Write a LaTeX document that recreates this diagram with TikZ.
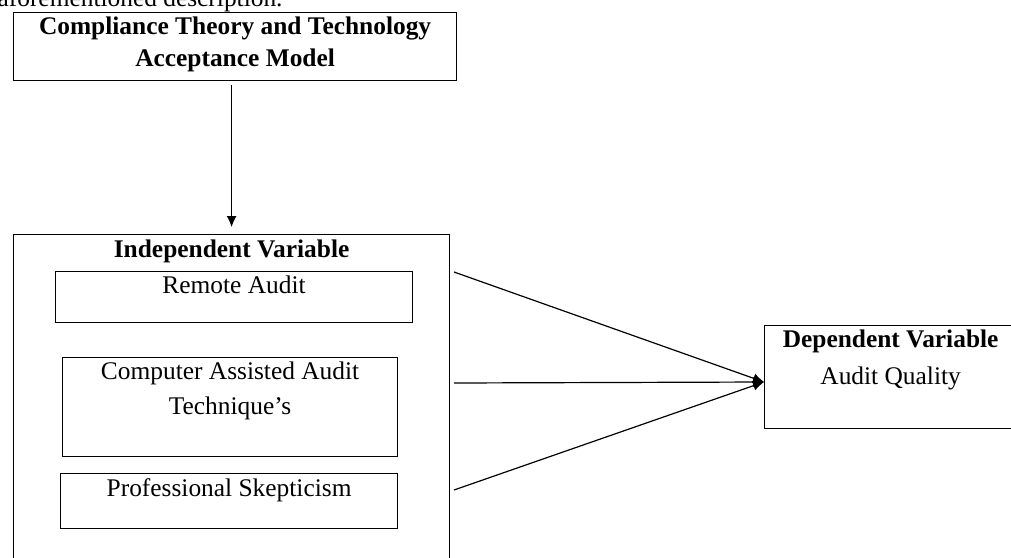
\documentclass[tikz,border=0pt]{standalone}
\usepackage{fontspec}
\setmainfont{Liberation Serif}
\usetikzlibrary{arrows,arrows.meta,positioning,calc}

\begin{document}
\begin{tikzpicture}[x=0.5pt, y=-0.5pt, line width=0.6pt,
            font=\fontsize{12.7}{16}\selectfont,
            box/.style={draw, rectangle, inner sep=0pt, anchor=north west},
            txt/.style={inner sep=0pt, align=center},
            link/.style={draw, -{Latex[length=5.5pt,width=5pt]}}]
        \clip (0,0) rectangle (1011,557);

        \node[txt, anchor=base west] (intro) at (-3,6) {aforementioned description.};

        % theory box
        \node[box, minimum width=221.5pt, minimum height=34pt] (theory) at (13,12) {};
        \node[txt, below=2pt of theory.north, font=\fontsize{12.7}{16}\selectfont\bfseries]
              (theoryt) {Compliance Theory and Technology\\Acceptance Model};

        % independent variables
        \node[box, minimum width=218pt, minimum height=175pt] (indep) at (13,234) {};
        \node[txt, below=2.5pt of indep.north, font=\fontsize{12.7}{16}\selectfont\bfseries]
              (indept) {Independent Variable};

        \node[box, minimum width=178.5pt, minimum height=25.5pt] (remote) at (55,271) {};
        \node[txt, below=2pt of remote.north] (remotet) {Remote Audit};

        \node[box, minimum width=167.5pt, minimum height=49.5pt] (caat) at (62,357) {};
        \node[txt, below=2pt of caat.north, font=\fontsize{12.7}{17.5}\selectfont]
              (caatt) {Computer Assisted Audit\\Technique's};

        \node[box, minimum width=168.5pt, minimum height=27.5pt] (skept) at (60,473) {};
        \node[txt, below=2.5pt of skept.north] (skeptt) {Professional Skepticism};

        % dependent variable
        \node[box, minimum width=126pt, minimum height=51.5pt] (dep) at (764,325) {};
        \node[txt, below=2pt of dep.north, font=\fontsize{12.7}{18.5}\selectfont]
              (dept) {\textbf{Dependent Variable}\\Audit Quality};

        \coordinate (s1) at (454,272);
        \coordinate (s2) at (454,383);
        \coordinate (s3) at (454,490);
        \coordinate (tip) at ($(dep.north west)+(0,57)$);

        \draw[link, shorten <=2pt, shorten >=3.5pt] (theory.south -| indep.north) -- (indep.north);
        \draw[link] (s1) -- (tip);
        \draw[link] (s2) -- (tip);
        \draw[link] (s3) -- (tip);
\end{tikzpicture}
\end{document}
